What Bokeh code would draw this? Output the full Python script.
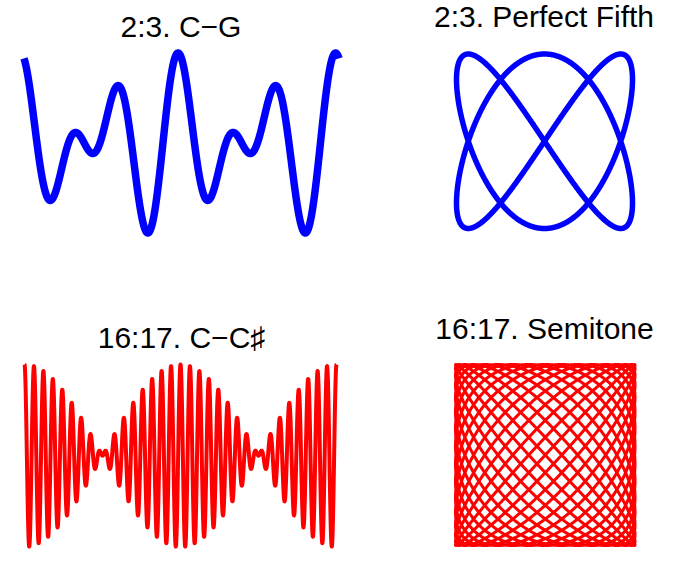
import numpy as np
from bokeh.plotting import figure
from bokeh.layouts import column, row
from bokeh.models import Range1d
from bokeh.core.properties import value
from bokeh.embed import file_html
from bokeh.resources import INLINE

# ---- data ----------------------------------------------------------------
fifth_ratio = [2, 3]          # C : G
semitone_ratio = [16, 17]     # C : C#
wave_titles = ["2:3. C\u2212G", "16:17. C\u2212C\u266f"]
lissajous_titles = ["2:3. Perfect Fifth", "16:17. Semitone"]
fifth_wave_start = 0.74       # start of the shown window (rad)
semitone_wave_start = 0.0
periods_shown = 2             # number of full 2*pi periods in the wave panels

# ---- curves derived from the frequency ratios -----------------------------
t_a = np.linspace(fifth_wave_start, fifth_wave_start + periods_shown * 2 * np.pi, 3000)
y_a = np.sin(fifth_ratio[0] * t_a) + np.sin(fifth_ratio[1] * t_a)

t_c = np.linspace(semitone_wave_start, semitone_wave_start + periods_shown * 2 * np.pi, 8000)
y_c = np.cos(semitone_ratio[0] * t_c) + np.cos(semitone_ratio[1] * t_c)

s_b = np.linspace(0, 2 * np.pi, 3000)
lx_b = np.sin(fifth_ratio[0] * s_b)
ly_b = np.sin(fifth_ratio[1] * s_b)

s_d = np.linspace(0, 2 * np.pi, 30000)
lx_d = np.sin(semitone_ratio[0] * s_d)
ly_d = np.sin(semitone_ratio[1] * s_d)

TITLE_SHIFT = 11  # px, compensates the text glyph's baseline placement


def panel(w, h, xd, xp, yd, yp, title, title_px):
    """xd=(data left,data right) -> xp=(px,px); yd=(data top,data bottom) -> yp=(px from top)"""
    x0, x1 = xd
    px0, px1 = xp
    yt, yb = yd
    pyt, pyb = yp
    sx = (x1 - x0) / (px1 - px0)
    sy = (yt - yb) / (pyb - pyt)
    xr = Range1d(x0 - px0 * sx, x0 + (w - px0) * sx)
    yr = Range1d(yt - (h - pyt) * sy, yt + pyt * sy)
    p = figure(width=w, height=h, x_range=xr, y_range=yr, output_backend="svg",
               toolbar_location=None, x_axis_type=None, y_axis_type=None,
               min_border=0, min_border_left=0, min_border_right=0,
               min_border_top=0, min_border_bottom=0, title=None)
    p.outline_line_color = None
    p.grid.visible = False
    p.background_fill_color = "white"
    p.border_fill_color = "white"
    tx = x0 + (title_px[0] - px0) * sx
    ty = yt + (pyt - (title_px[1] - TITLE_SHIFT)) * sy
    p.text(x=[tx], y=[ty], text=[title], text_font=value("Liberation Sans"),
           text_font_size="30px", text_align="center", text_baseline="alphabetic",
           text_color="black")
    return p


# top-left: 2:3 wave
pa = panel(395, 290, (t_a[0], t_a[-1]), (23.5, 338.5), (y_a.max(), y_a.min()), (52.5, 232.5),
           wave_titles[0], (180.5, 36.7))
pa.line(t_a, y_a, line_color="#0000ff", line_width=7.5, line_join="round")

# top-right: 2:3 Lissajous
pb = panel(285, 290, (-1, 1), (61, 237), (1, -1), (53.5, 228),
           lissajous_titles[0], (148.5, 26.7))
pb.line(lx_b, ly_b, line_color="#0000ff", line_width=5.5, line_join="round")

# bottom-left: 16:17 wave
pc = panel(395, 268, (t_c[0], t_c[-1]), (24, 336), (y_c.max(), y_c.min()), (74, 256),
           wave_titles[1], (181, 57.5))
pc.line(t_c, y_c, line_color="#ff0000", line_width=4, line_join="round")

# bottom-right: 16:17 Lissajous
pd_ = panel(285, 268, (-1, 1), (60, 239.5), (1, -1), (74, 255),
            lissajous_titles[1], (149, 49))
pd_.line(lx_d, ly_d, line_color="#ff0000", line_width=3, line_join="round")

layout = column(row(pa, pb), row(pc, pd_))
open("out.html", "w").write(file_html(layout, INLINE))
